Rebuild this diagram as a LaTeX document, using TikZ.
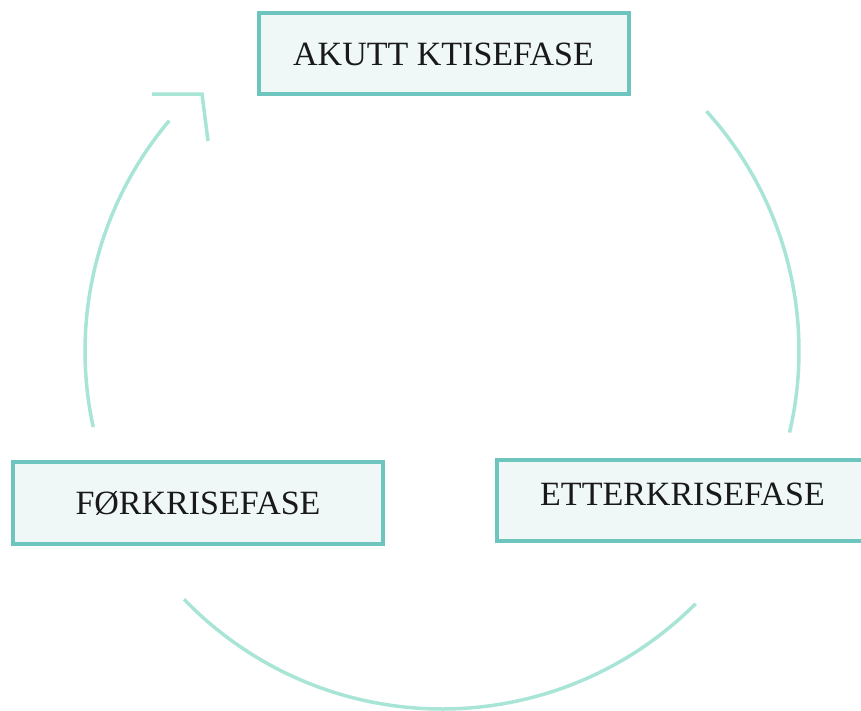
\documentclass[tikz,border=0pt]{standalone}
\usepackage{fontspec}
\setmainfont{Liberation Serif}
\definecolor{boxline}{RGB}{110,197,189}
\definecolor{boxfill}{RGB}{239,247,247}
\definecolor{arccol}{RGB}{168,229,215}
\definecolor{txt}{RGB}{25,25,25}
\begin{document}
\begin{tikzpicture}[x=1pt,y=-1pt,
  phasebox/.style={draw=boxline,fill=boxfill,line width=4pt,rectangle,
    text=txt,font=\fontsize{34}{37}\selectfont,inner sep=0pt,
    text height=22.5pt,text depth=0pt},
  arcline/.style={draw=arccol,line width=3.5pt}]
\useasboundingbox (0,0) rectangle (861,710);
\node[phasebox,minimum width=370pt,minimum height=81pt] (akutt) at (443.5,53.8) {AKUTT KTISEFASE};
\node[phasebox,minimum width=370pt,minimum height=82pt] (for) at (198,503) {FØRKRISEFASE};
\node[phasebox,minimum width=371pt,minimum height=81pt,text depth=12pt] (etter) at (682.5,500) {ETTERKRISEFASE};
\coordinate (c) at (442,351);
\draw[arcline] (c) ++(-42.2:357) arc[start angle=-42.2,end angle=13.2,radius=357];
\draw[arcline] (c) ++(44.9:358) arc[start angle=44.9,end angle=136.1,radius=358];
\draw[arcline] (c) ++(167.7:357) arc[start angle=167.7,end angle=220.2,radius=357];
\coordinate (t1) at (152,94);
\coordinate (t2) at (202,94);
\coordinate (t3) at (208,141);
\draw[arcline] (t1) -- (t2) -- (t3);
\end{tikzpicture}
\end{document}
